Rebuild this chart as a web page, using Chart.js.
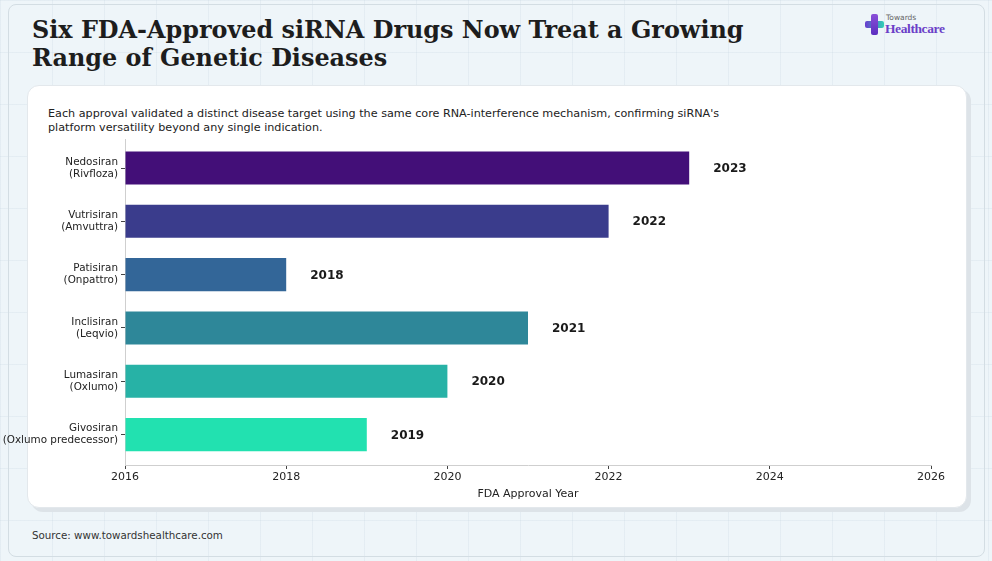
<!DOCTYPE html>
<html>
<head>
<meta charset="utf-8">
<script src="https://cdn.jsdelivr.net/npm/chart.js@4"></script>
<style>
  html, body { margin: 0; padding: 0; }
  body {
    width: 992px; height: 561px; position: relative; overflow: hidden;
    font-family: "DejaVu Sans", sans-serif;
    background-color: #eef5f9;
    background-image:
      linear-gradient(rgba(205,218,228,0.3) 1px, transparent 1px),
      linear-gradient(90deg, rgba(205,218,228,0.3) 1px, transparent 1px);
    background-size: 52px 52px;
  }
  .panel {
    position: absolute; left: 8px; top: 4px; width: 975px; height: 551px;
    border: 1px solid #d3dde3; border-radius: 8px;
  }
  .title {
    position: absolute; left: 32px; top: 16px; margin: 0;
    font-family: "DejaVu Serif", serif; font-weight: bold; font-size: 23.9px;
    line-height: 28px; color: #1d1d1d;
  }
  .card {
    position: absolute; left: 27px; top: 85px; width: 938px; height: 421px;
    background: #fff; border-radius: 12px; border: 1px solid #e3e8ec;
    box-shadow: 4px 4px 0 #dde3e8;
  }
  .subtitle {
    position: absolute; left: 48px; top: 107px; font-size: 11.2px;
    line-height: 14px; color: #222;
  }
  .source {
    position: absolute; left: 32px; top: 529px; font-size: 10.3px; color: #333;
  }
  .logo { position: absolute; left: 865px; top: 14px; }
  .logo .v, .logo .h { position: absolute; border-radius: 2px; }
  .logo .v { left: 6px; top: 0; width: 7px; height: 21px; background: linear-gradient(#8a4fd8, #5b2fc0); }
  .logo .h { left: 0; top: 7px; width: 19px; height: 7px; background: linear-gradient(90deg, #6a3bd0, #2fd1b5); }
  .logo .t1 { position: absolute; left: 21px; top: -1px; font-size: 7.5px; color: #666; }
  .logo .t2 { position: absolute; left: 20px; top: 7px; font-family: "Liberation Serif", serif; font-size: 13.5px; color: #6b3fc8; font-weight: bold; letter-spacing: -0.4px; }
  #chart { position: absolute; left: 0; top: 0; }
</style>
</head>
<body>
<div class="panel"></div>
<h1 class="title">Six FDA-Approved siRNA Drugs Now Treat a Growing<br>Range of Genetic Diseases</h1>
<div class="logo"><div class="h"></div><div class="v"></div><span class="t1">Towards</span><span class="t2">Healthcare</span></div>
<div class="card"></div>
<div class="subtitle">Each approval validated a distinct disease target using the same core RNA-interference mechanism, confirming siRNA's<br>platform versatility beyond any single indication.</div>
<div class="source">Source: www.towardshealthcare.com</div>
<canvas id="chart" width="992" height="561"></canvas>
<script>
// Data
const drugs = [
  ['Nedosiran', '(Rivfloza)'],
  ['Vutrisiran', '(Amvuttra)'],
  ['Patisiran', '(Onpattro)'],
  ['Inclisiran', '(Leqvio)'],
  ['Lumasiran', '(Oxlumo)'],
  ['Givosiran', '(Oxlumo predecessor)']
];
const approvalYears = [2023, 2022, 2018, 2021, 2020, 2019];
const barColors = ['#430f78', '#3a3c8c', '#336698', '#2e8799', '#27b2a6', '#22e1b0'];
const xTicks = [2016, 2018, 2020, 2022, 2024, 2026];

// Year labels to the right of each bar
const valueLabels = {
  id: 'valueLabels',
  afterDatasetsDraw(chart) {
    const ctx = chart.ctx;
    const meta = chart.getDatasetMeta(0);
    ctx.save();
    ctx.font = 'bold 12px "DejaVu Sans"';
    ctx.fillStyle = '#1a1a1a';
    ctx.textAlign = 'left';
    ctx.textBaseline = 'middle';
    meta.data.forEach((bar, i) => {
      ctx.fillText(String(approvalYears[i]), bar.x + 24, bar.y + 1);
    });
    ctx.restore();
  }
};

new Chart(document.getElementById('chart'), {
  type: 'bar',
  data: {
    datasets: [{
      data: approvalYears.map((yr, i) => ({ x: yr, y: i })),
      backgroundColor: barColors,
      borderWidth: 0,
      categoryPercentage: 1,
      barPercentage: 0.62
    }]
  },
  options: {
    indexAxis: 'y',
    responsive: false,
    animation: false,
    base: 2016,
    layout: { padding: { top: 139, right: 61, bottom: 56, left: 0 } },
    plugins: { legend: { display: false }, tooltip: { enabled: false } },
    scales: {
      x: {
        type: 'linear',
        min: 2016, max: 2026,
        afterBuildTicks: (scale) => { scale.ticks = xTicks.map(v => ({ value: v })); },
        afterFit: (scale) => { scale.height = 40; },
        grid: { drawOnChartArea: false, tickLength: 4, color: '#444' },
        border: { color: '#cfcfcf' },
        ticks: { color: '#222', font: { family: 'DejaVu Sans', size: 11 }, padding: 2, callback: (v) => String(v) },
        title: {
          display: true, text: 'FDA Approval Year', color: '#222',
          font: { family: 'DejaVu Sans', size: 11 }, padding: { top: 2, bottom: 4 }
        }
      },
      y: {
        type: 'linear',
        reverse: true,
        offset: false,
        min: -0.544, max: 5.57,
        afterBuildTicks: (scale) => { scale.ticks = drugs.map((d, i) => ({ value: i })); },
        afterFit: (scale) => { scale.width = 125; },
        grid: { drawOnChartArea: false, offset: false, tickLength: 4, color: '#444' },
        border: { color: '#cfcfcf' },
        ticks: {
          color: '#222', font: { family: 'DejaVu Sans', size: 10.4, lineHeight: 1.15 }, padding: 3,
          callback: (v) => drugs[v]
        }
      }
    }
  },
  plugins: [valueLabels]
});
</script>
</body>
</html>
